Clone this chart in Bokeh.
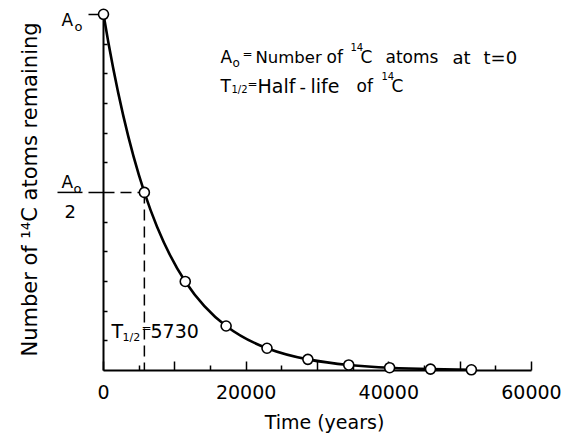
from bokeh.plotting import figure
from bokeh.models import Range1d, FixedTicker, ColumnDataSource
from bokeh.core.properties import value
from bokeh.embed import file_html
from bokeh.resources import INLINE

# ---------------- data ----------------
half_life = 5730
time_years = [0, 5730, 11460, 17190, 22920, 28650, 34380, 40110, 45840, 51570]
atoms_remaining = [1.0, 0.5, 0.25, 0.125, 0.0625, 0.03125, 0.015625,
                   0.0078125, 0.00390625, 0.001953125]
x_major_ticks = [0, 10000, 20000, 30000, 40000, 50000, 60000]
x_tick_labels = {0: "0", 10000: "", 20000: "20000", 30000: "",
                 40000: "40000", 50000: "", 60000: "60000"}
x_minor_ticks = [5000, 15000, 25000, 35000, 45000, 55000]
y_major_ticks = [0.5, 1.0]
y_minor_ticks = [1/12, 2/12, 3/12, 4/12, 5/12, 7/12, 8/12, 9/12, 10/12, 11/12]

FONT = "DejaVu Sans"

# frame geometry (page px): x=0 -> 103, 60000 -> 531 ; y=0 -> 381, A0 -> 14
W, H = 567, 435
LEFT, RIGHT, TOP, BOTTOM = 103, 22, 8, 54
px_x = 60000 / 428.0      # years per pixel
px_y = 1 / 367.0          # A0 per pixel
x_end = (W - LEFT - RIGHT) * px_x
y_end = (H - TOP - BOTTOM) * px_y

p = figure(width=W, height=H, output_backend="svg", toolbar_location=None,
           x_range=Range1d(0, x_end), y_range=Range1d(0, y_end),
           min_border_left=LEFT, min_border_right=RIGHT,
           min_border_top=TOP, min_border_bottom=BOTTOM,
           x_axis_label="Time (years)",
           y_axis_label="Number of \u00b9\u2074C atoms remaining")
p.outline_line_color = None
p.grid.visible = False
p.background_fill_color = "white"
p.border_fill_color = "white"

# x axis
xa = p.xaxis[0]
xa.ticker = FixedTicker(ticks=x_major_ticks, minor_ticks=x_minor_ticks)
xa.major_label_overrides = x_tick_labels
xa.bounds = (0, 60000)
xa.axis_line_width = 2
xa.axis_line_color = "black"
xa.major_tick_line_width = 1.5
xa.minor_tick_line_width = 1.5
xa.major_tick_in = 9
xa.major_tick_out = 0
xa.minor_tick_in = 5
xa.minor_tick_out = 0
xa.major_label_standoff = 14
xa.major_label_text_font = FONT
xa.major_label_text_font_size = "19px"
xa.major_label_text_color = "black"
xa.axis_label_text_font = FONT
xa.axis_label_text_font_size = "19px"
xa.axis_label_text_font_style = "normal"
xa.axis_label_text_color = "black"
xa.axis_label_standoff = 9

# y axis
ya = p.yaxis[0]
ya.ticker = FixedTicker(ticks=y_major_ticks, minor_ticks=y_minor_ticks)
ya.major_label_overrides = {0.5: "", 1.0: ""}
ya.bounds = (0, 1.0)
ya.axis_line_width = 2
ya.axis_line_color = "black"
ya.major_tick_line_width = 1.5
ya.minor_tick_line_width = 1.5
ya.major_tick_in = 0
ya.major_tick_out = 15
ya.minor_tick_in = 4
ya.minor_tick_out = 0
ya.major_label_standoff = 0
ya.axis_label_text_font = FONT
ya.axis_label_text_font_size = "21px"
ya.axis_label_text_font_style = "normal"
ya.axis_label_text_color = "black"
ya.axis_label_standoff = 47

# dashed half-life guides
p.line([0, time_years[1]], [atoms_remaining[1], atoms_remaining[1]],
       line_color="black", line_width=1.5, line_dash="11 6")
p.line([time_years[1], time_years[1]], [atoms_remaining[1], 0],
       line_color="black", line_width=1.5, line_dash="11 6")

# smooth decay curve: cubic Bezier between measured points, tangents from half-life
k = 0.6931471805599453 / half_life
x0, y0, x1, y1, cx0, cy0, cx1, cy1 = [], [], [], [], [], [], [], []
for i in range(len(time_years) - 1):
    xa_, xb_ = time_years[i], time_years[i + 1]
    ya_, yb_ = atoms_remaining[i], atoms_remaining[i + 1]
    h = (xb_ - xa_) / 3.0
    x0.append(xa_); y0.append(ya_); x1.append(xb_); y1.append(yb_)
    cx0.append(xa_ + h); cy0.append(ya_ - k * ya_ * h)
    cx1.append(xb_ - h); cy1.append(yb_ + k * yb_ * h)
curve = ColumnDataSource(dict(x0=x0, y0=y0, x1=x1, y1=y1,
                              cx0=cx0, cy0=cy0, cx1=cx1, cy1=cy1))
p.bezier(x0="x0", y0="y0", x1="x1", y1="y1", cx0="cx0", cy0="cy0",
         cx1="cx1", cy1="cy1", source=curve, line_color="black", line_width=2.6)

pts = p.scatter(time_years, atoms_remaining, size=10, marker="circle",
                fill_color="white", line_color="black", line_width=1.6)
pts.level = "overlay"

# fraction bar for A0/2
bar = p.line([-46 * px_x, -21 * px_x], [0.5, 0.5], line_color="black", line_width=1.5)
bar.level = "overlay"


def page_x(px):
    return (px - 103) * px_x


def page_y(py):
    return (381 - py) * px_y


texts = [
    # y tick labels
    ("A", 61, 20, 17), ("o", 74, 27, 13),
    ("A", 61, 187, 17), ("o", 73, 193, 13), ("2", 64, 217, 18),
    # half-life annotation
    ("T", 111, 340, 19), ("1/2", 122, 347, 11), ("=", 141, 337, 12), ("5730", 150, 340, 19),
    # legend line 1
    ("A", 220, 58, 17), ("o", 232, 64, 12), ("=", 242, 55, 12), ("Number", 255, 58, 16.5),
    ("of", 326, 58, 17), ("14", 350, 48, 10), ("C", 360, 58, 17), ("atoms", 385, 58, 17),
    ("at", 452, 58, 18), ("t=0", 483, 58, 18),
    # legend line 2
    ("T", 220, 88, 17), ("1/2", 231, 91, 10), ("=", 247, 86, 12), ("Half", 257, 88, 19),
    ("-", 299, 88, 18), ("life", 310, 88, 19),
    ("of", 356, 88, 17), ("14", 381, 78, 10), ("C", 391, 88, 17),
]
for t, xp, yp, fs in texts:
    r = p.text(x=[page_x(xp)], y=[page_y(yp)], text=[t], text_font=value(FONT),
               text_font_size=value(f"{fs}px"), text_color="black",
               text_align="left", text_baseline="alphabetic")
    r.level = "overlay"

html = file_html(p, INLINE)
open("out.html", "w").write(html)
